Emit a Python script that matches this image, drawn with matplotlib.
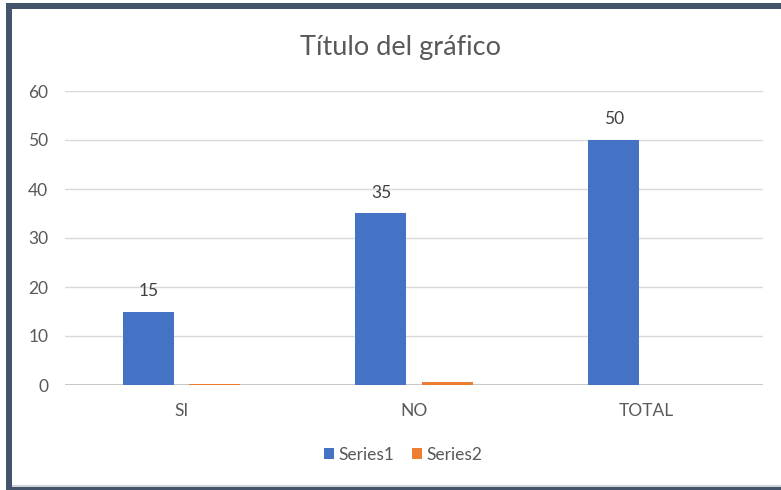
import matplotlib
matplotlib.use("Agg")
import matplotlib.pyplot as plt
from matplotlib.patches import Rectangle
import numpy as np

categories = ["SI", "NO", "TOTAL"]
series1 = [15, 35, 50]
series2 = [0.3, 0.7, 0]
yticks = [0, 10, 20, 30, 40, 50, 60]

plt.rcParams['font.family'] = ['Lato', 'DejaVu Sans']

W, H = 781, 490
fig = plt.figure(figsize=(W / 100, H / 100), dpi=100)
fig.patch.set_facecolor("white")

# dark frame around the chart area
frame_col = "#44546A"
fig.patches.append(Rectangle((6 / W, 0), 6 / W, 1 - 3 / H, transform=fig.transFigure,
                             facecolor=frame_col, edgecolor="none", zorder=0))
fig.patches.append(Rectangle((6 / W, 1 - 9 / H), 1, 6 / H, transform=fig.transFigure,
                             facecolor=frame_col, edgecolor="none", zorder=0))
fig.patches.append(Rectangle((6 / W, 0), 1, 3 / H, transform=fig.transFigure,
                             facecolor=frame_col, edgecolor="none", zorder=0))
fig.patches.append(Rectangle((12 / W, 3 / H), 1, 2 / H, transform=fig.transFigure,
                             facecolor="#D0D4DA", edgecolor="none", zorder=0))

ax = fig.add_axes([65 / W, 1 - 385 / H, 698 / W, 294 / H])
ax.set_facecolor("none")

x = np.arange(len(categories))
bw = 0.219
gap = 0.065
b1 = ax.bar(x - (bw + gap) / 2, series1, bw, color="#4472C4", label="Series1", zorder=3)
b2 = ax.bar(x + (bw + gap) / 2, series2, bw, color="#ED7D31", label="Series2", zorder=3)

for rect, v in zip(b1, series1):
    ax.annotate(f"{v}", (rect.get_x() + rect.get_width() / 2, v),
                xytext=(0, 9), textcoords="offset points", ha="center", va="bottom",
                fontsize=12.5, color="#404040")

ax.set_xlim(-0.5, len(categories) - 0.5)
ax.set_ylim(0, 60)
ax.set_yticks(yticks)
ax.set_xticks(x)
ax.set_xticklabels(categories)
ax.grid(axis="y", color="#D9D9D9", linewidth=1, zorder=0)
ax.axhline(0, color="#BFBFBF", linewidth=1.2, zorder=2)
for s in ax.spines.values():
    s.set_visible(False)
ax.tick_params(axis="both", length=0, labelsize=12.5, colors="#595959")
ax.tick_params(axis="y", pad=12)
ax.tick_params(axis="x", pad=13)

fig.text(400 / W, 1 - 47 / H, "Título del gráfico", ha="center", va="center",
         fontsize=19.5, color="#595959")

fig.legend(handles=[b1, b2], labels=["Series1", "Series2"], loc="center",
           bbox_to_anchor=(403 / W, 1 - 455 / H), ncol=2, frameon=False,
           fontsize=12.5, labelcolor="#595959", handlelength=0.6, handleheight=0.6,
           handletextpad=0.25, columnspacing=1.0)

fig.savefig("out.png", dpi=100, facecolor="white")
